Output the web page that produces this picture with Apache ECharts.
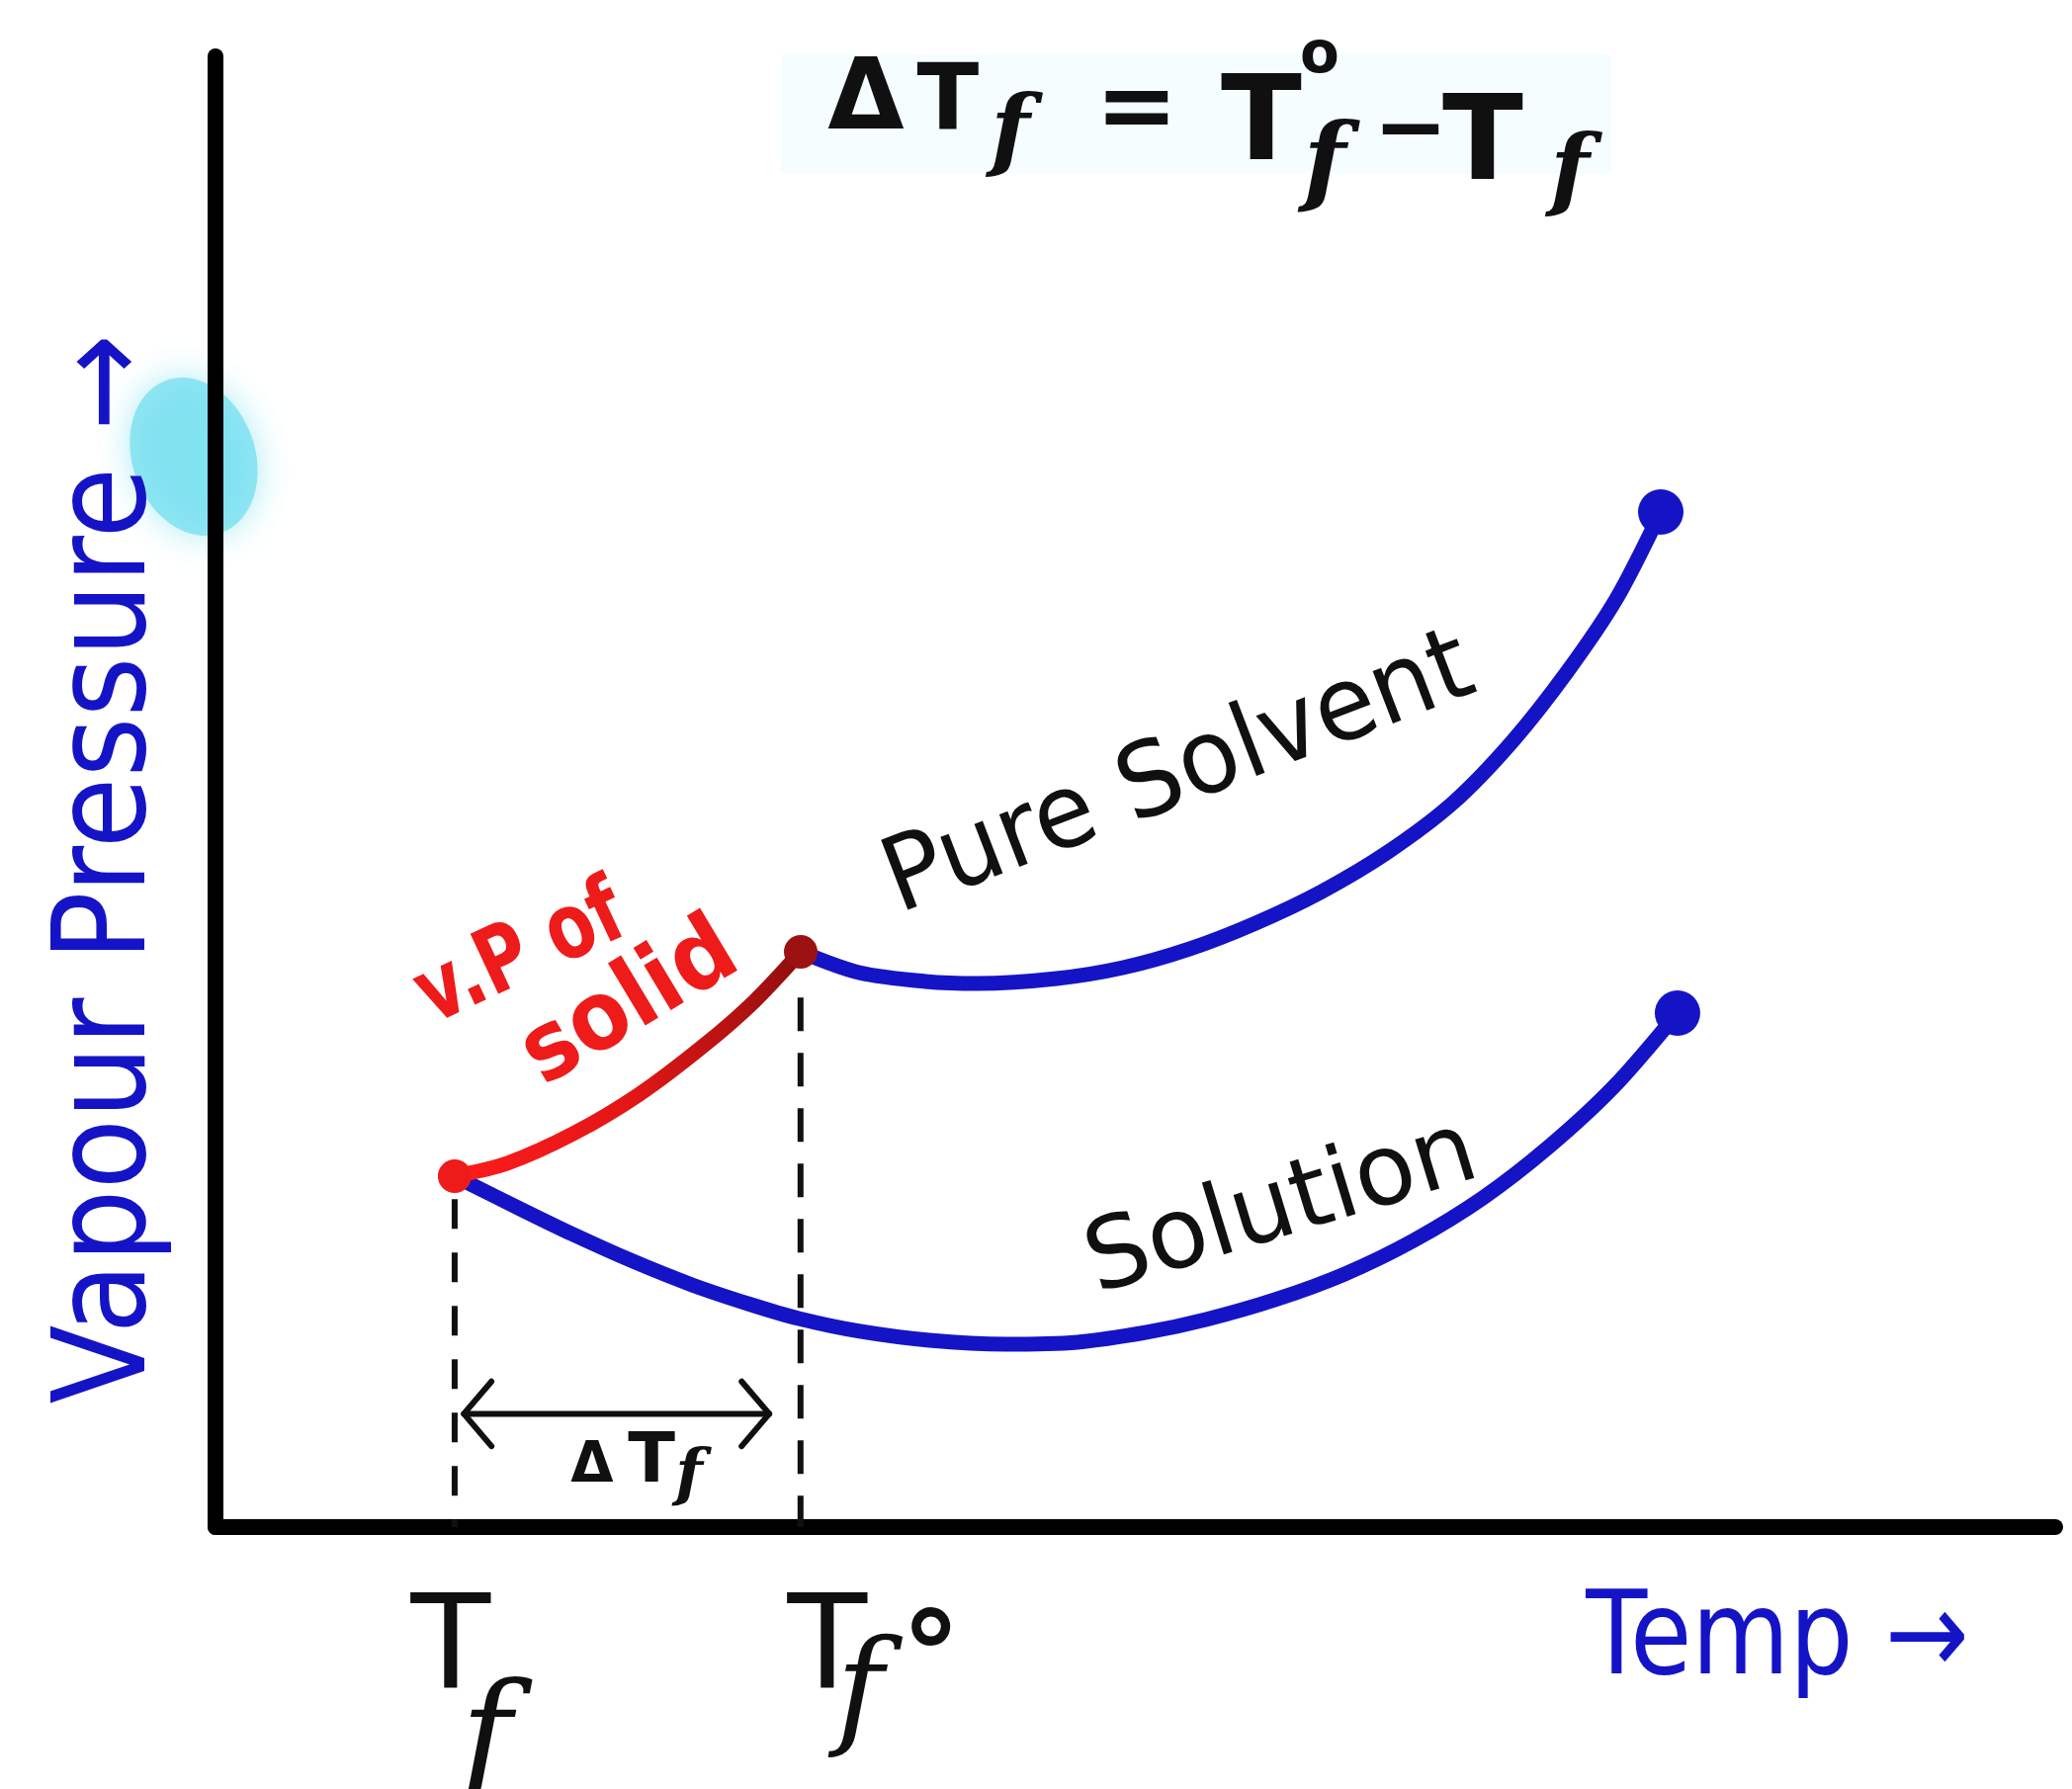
<!DOCTYPE html>
<html>
<head>
<meta charset="utf-8">
<title>Depression in freezing point</title>
<script src="https://cdn.jsdelivr.net/npm/echarts@6/dist/echarts.min.js"></script>
<style>
  html, body { margin: 0; padding: 0; background: #ffffff; }
  #chart { width: 2096px; height: 1810px; }
</style>
</head>
<body>
<div id="chart"></div>
<script>
// Vapour pressure against temperature for a pure solvent, its solution and the solid.

// Freezing points on the temperature axis
const TF = 13.0;   // solution
const TF0 = 31.8;  // pure solvent

// Pure solvent (liquid) vapour-pressure curve
const pureSolventT = [31.81, 34.98, 38.58, 41.43, 45.73, 49.33, 52.93, 56.53, 60.13, 63.73, 67.28, 70.50, 73.46, 76.14, 78.56];
const pureSolventP = [39.11, 37.70, 37.10, 36.96, 37.30, 38.04, 39.31, 41.06, 43.21, 45.90, 49.26, 53.43, 58.13, 63.10, 69.02];

// Solution vapour-pressure curve
const solutionT = [13.00, 16.77, 19.45, 22.68, 25.90, 29.12, 31.70, 35.03, 38.80, 42.93, 46.86, 50.62, 53.84, 57.60, 61.37, 65.13, 68.89, 72.49, 76.03, 79.47];
const solutionP = [23.86, 21.51, 19.89, 18.08, 16.47, 15.12, 14.18, 13.31, 12.70, 12.43, 12.57, 13.24, 14.11, 15.46, 17.20, 19.49, 22.38, 25.87, 29.97, 34.95];

// Vapour pressure of the solid, between the two freezing points
const solidT = [13.00, 15.85, 19.45, 23.05, 26.60, 29.29, 31.81];
const solidP = [23.86, 24.73, 26.75, 29.44, 32.80, 35.75, 39.11];

// Drop lines from the freezing points to the axis (top of each line)
const dropTop = [22.3, 36.0];

// Double arrow marking the depression
const deltaSpan = [13.5, 30.1];
const deltaLevel = 7.7;

const BLUE = '#1414c6';
const RED = '#ee1b1b';
const DARK_RED = '#9c1212';
const INK = '#101010';

const pairs = (xs, ys) => xs.map((x, i) => [x, ys[i]]);
const last = arr => arr[arr.length - 1];

const chart = echarts.init(document.getElementById('chart'));

const axisCommon = {
  type: 'value',
  min: 0,
  max: 100,
  axisLine: { show: true, onZero: false, lineStyle: { color: '#000', width: 16, cap: 'round' } },
  axisTick: { show: false },
  axisLabel: { show: false },
  splitLine: { show: false }
};

// arrow head sizes in data units
const headDx = 1.5, headDy = 2.2;

const curve = (name, xs, ys, color, z) => ({
  type: 'line', name, z, symbol: 'none', smooth: 0.3,
  data: pairs(xs, ys),
  lineStyle: { color, width: 15, cap: 'round', join: 'round' }
});

chart.setOption({
  backgroundColor: '#ffffff',
  animation: false,
  grid: { left: 218, right: 17, top: 57, bottom: 265 },
  xAxis: axisCommon,
  yAxis: axisCommon,
  series: [
    {
      type: 'line', name: 'drop-Tf', z: 3, symbol: 'none', silent: true,
      data: [[TF, dropTop[0]], [TF, 0]],
      lineStyle: { color: INK, width: 6, type: [30, 24] }
    },
    {
      type: 'line', name: 'drop-Tf0', z: 3, symbol: 'none', silent: true,
      data: [[TF0, dropTop[1]], [TF0, 0]],
      lineStyle: { color: INK, width: 6, type: [34, 22] }
    },
    {
      type: 'line', name: 'delta-shaft', z: 3, symbol: 'none', silent: true,
      data: [[deltaSpan[0], deltaLevel], [deltaSpan[1], deltaLevel]],
      lineStyle: { color: INK, width: 6, cap: 'round' }
    },
    {
      type: 'line', name: 'delta-head-left', z: 3, symbol: 'none', silent: true,
      data: [[deltaSpan[0] + headDx, deltaLevel + headDy], [deltaSpan[0], deltaLevel], [deltaSpan[0] + headDx, deltaLevel - headDy]],
      lineStyle: { color: INK, width: 6, cap: 'round', join: 'round' }
    },
    {
      type: 'line', name: 'delta-head-right', z: 3, symbol: 'none', silent: true,
      data: [[deltaSpan[1] - headDx, deltaLevel + headDy], [deltaSpan[1], deltaLevel], [deltaSpan[1] - headDx, deltaLevel - headDy]],
      lineStyle: { color: INK, width: 6, cap: 'round', join: 'round' }
    },
    curve('Pure Solvent', pureSolventT, pureSolventP, BLUE, 4),
    curve('Solution', solutionT, solutionP, BLUE, 4),
    curve('v.p of solid', solidT, solidP, new echarts.graphic.LinearGradient(0, 0, 1, 0, [
      { offset: 0, color: '#ff1c1c' },
      { offset: 0.5, color: '#e41616' },
      { offset: 0.8, color: '#b41212' },
      { offset: 1, color: '#8a0d0d' }
    ]), 5),
    {
      type: 'scatter', name: 'ends', z: 6, silent: true,
      itemStyle: { opacity: 1 },
      data: [
        { value: [last(pureSolventT), last(pureSolventP)], symbolSize: 46, itemStyle: { color: BLUE, opacity: 1 } },
        { value: [last(solutionT), last(solutionP)], symbolSize: 46, itemStyle: { color: BLUE, opacity: 1 } },
        { value: [solidT[0], solidP[0]], symbolSize: 34, itemStyle: { color: RED, opacity: 1 } },
        { value: [last(solidT), last(solidP)], symbolSize: 34, itemStyle: { color: DARK_RED, opacity: 1 } }
      ]
    }
  ]
});

// ---- annotations ----
function label(x, y, text, o) {
  return {
    type: 'text', x, y, z: 20,
    rotation: (o.rot || 0) * Math.PI / 180,
    scaleX: o.sx || 1, scaleY: o.sy || 1,
    style: {
      text,
      fill: o.color || INK,
      fontSize: o.size,
      fontFamily: o.family || '"DejaVu Sans"',
      fontWeight: o.weight || 'normal',
      fontStyle: o.italic ? 'italic' : 'normal',
      align: 'center', verticalAlign: 'middle',
      textAlign: 'center', textVerticalAlign: 'middle'
    }
  };
}

const SERIF = '"DejaVu Serif"';
const px = v => chart.convertToPixel({ gridIndex: 0 }, [v, 0]);
const pTf = px(TF), pTf0 = px(TF0);
const axisY = pTf[1];

const graphics = [
  // soft cyan smudge near the pressure axis
  {
    type: 'ellipse', z: -1, silent: true,
    shape: { cx: 196, cy: 462, rx: 62, ry: 82 },
    rotation: 0.35, originX: 196, originY: 462,
    style: { fill: 'rgba(112,222,238,0.72)', shadowBlur: 34, shadowColor: 'rgba(112,222,238,0.8)' }
  },
  // faint tint behind the formula
  {
    type: 'rect', z: -2, silent: true,
    shape: { x: 790, y: 55, width: 840, height: 120 },
    style: { fill: 'rgba(225,248,252,0.35)' }
  },

  // axis names
  label(112, 879, 'Vapour Pressure \u2192', { size: 130, color: BLUE, rot: 90, sx: 0.9 }),
  label(1798, 1662, 'Temp \u2192', { size: 118, color: BLUE, sx: 0.86 }),

  // temperature marks under the axis
  label(pTf[0] - 4, axisY + 128, 'T', { size: 132 }),
  label(pTf[0] + 32, axisY + 222, 'f', { size: 140, family: SERIF, italic: true }),
  label(pTf0[0] + 27, axisY + 128, 'T', { size: 132 }),
  label(pTf0[0] + 60, axisY + 172, 'f', { size: 130, family: SERIF, italic: true }),
  label(pTf0[0] + 132, axisY + 140, '\u00b0', { size: 120, weight: 'bold' }),

  // ΔTf under the double arrow
  label(599, 1484, '\u0394', { size: 56, weight: 'bold' }),
  label(659, 1481, 'T', { size: 70, weight: 'bold' }),
  label(697, 1494, 'f', { size: 64, family: SERIF, italic: true, weight: 'bold' }),

  // ΔTf = T°f − Tf
  label(876, 104, '\u0394', { size: 100, weight: 'bold' }),
  label(959, 106, 'T', { size: 92, weight: 'bold' }),
  label(1022, 138, 'f', { size: 92, family: SERIF, italic: true, weight: 'bold' }),
  label(1150, 114, '=', { size: 100, weight: 'bold' }),
  label(1276, 130, 'T', { size: 120, weight: 'bold' }),
  label(1335, 58, 'o', { size: 58, weight: 'bold' }),
  label(1340, 170, 'f', { size: 100, family: SERIF, italic: true, weight: 'bold' }),
  label(1427, 136, '\u2212', { size: 90, weight: 'bold' }),
  label(1500, 150, 'T', { size: 120, weight: 'bold' }),
  label(1588, 178, 'f', { size: 92, family: SERIF, italic: true, weight: 'bold' }),

  // curve names
  label(1193, 786, 'Pure Solvent', { size: 104, rot: 21, sx: 0.96 }),
  label(1297, 1224, 'Solution', { size: 100, rot: 17 }),
  label(528, 968, 'v.P of', { size: 80, color: RED, weight: 'bold', rot: 25, sx: 0.88, sy: 1.15 }),
  label(638, 1017, 'solid', { size: 88, color: RED, weight: 'bold', rot: 31, sy: 1.1 })
];

chart.setOption({ graphic: graphics });
</script>
</body>
</html>
